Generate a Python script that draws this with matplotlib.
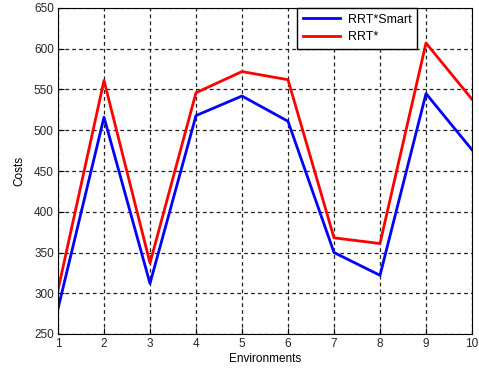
import numpy as np
import matplotlib
matplotlib.use('Agg')
import matplotlib.pyplot as plt

plt.rcParams['font.family'] = ['Liberation Sans', 'DejaVu Sans']

environments = np.arange(1, 11)
rrt_smart = [281, 516, 312, 518, 542, 511, 350, 322, 545, 476]
rrt_star = [304, 561, 337, 546, 572, 562, 368, 361, 607, 538]

fig = plt.figure(figsize=(4.79, 3.73), dpi=100)
ax = fig.add_axes([58/479, 1 - 334/373, 414/479, 326/373])

ax.plot(environments, rrt_smart, color='#0000ff', linewidth=2, label='RRT*Smart')
ax.plot(environments, rrt_star, color='#ff0000', linewidth=2, label='RRT*')

ax.set_xlim(1, 10)
ax.set_ylim(250, 650)
ax.set_xticks(environments)
ax.set_yticks(np.arange(250, 651, 50))
ax.grid(True, color='#202020', linestyle=(0, (3, 2.5)), linewidth=0.9)
ax.tick_params(direction='in', labelsize=8.5, length=4, pad=3, labelcolor='#262626')
for s in ax.spines.values():
    s.set_color('black')

ax.set_xlabel('Environments', fontsize=8.5, labelpad=2)
ax.set_ylabel('Costs', fontsize=8.5, labelpad=6)

leg = ax.legend(loc='upper right', bbox_to_anchor=(0.867, 1.0), fontsize=9,
                fancybox=False, framealpha=1, edgecolor='black',
                borderaxespad=0, handlelength=3.0, labelspacing=0.45,
                borderpad=0.45, handletextpad=0.6)
leg.get_frame().set_linewidth(1)

fig.savefig('out.png', dpi=100)
